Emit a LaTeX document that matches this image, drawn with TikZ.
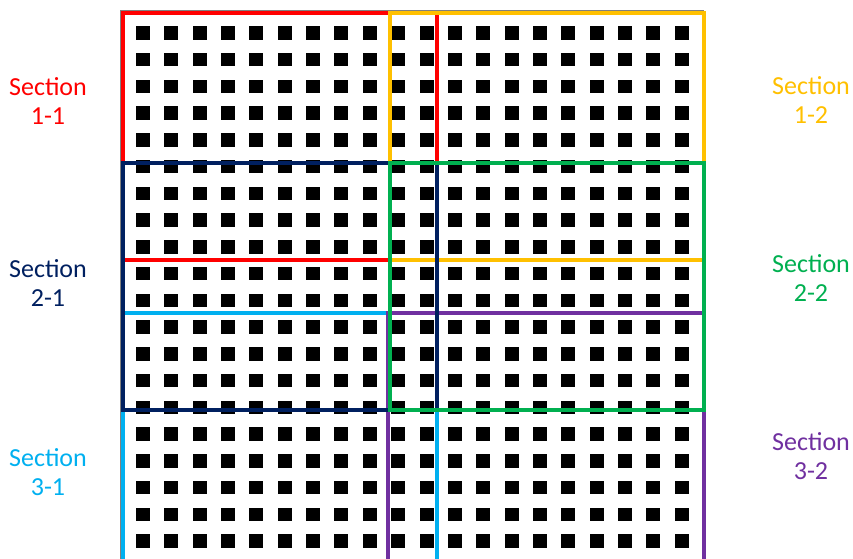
\documentclass[tikz,border=0pt]{standalone}
\usepackage{fontspec}
\setmainfont{Carlito}
\usetikzlibrary{positioning}
\definecolor{secred}{HTML}{FF0000}
\definecolor{secgold}{HTML}{FFC000}
\definecolor{secnavy}{HTML}{002060}
\definecolor{secgreen}{HTML}{00B050}
\definecolor{secsky}{HTML}{00B0F0}
\definecolor{secviolet}{HTML}{7030A0}

\begin{document}
\begin{tikzpicture}[x=1pt,y=-1pt,
  secbox/.style={line width=4pt},
  seclabel/.style={align=center,font=\fontsize{26}{29}\selectfont}]
  \useasboundingbox (0,0) rectangle (853,558);
  \fill[white] (0,0) rectangle (853,558);
  \clip (0,0) rectangle (853,558);
  % outer frame and pins
  \draw[gray,line width=1pt] (120,10) rectangle (703,600);
  \foreach \i in {0,...,19}
    \foreach \j in {0,...,20}
      \fill ({136+28.35*\i},{26+26.75*\j}) rectangle +(14,13.5);
  % sections
  \draw[secbox,secred] (123,13) rectangle (437,260);
  \draw[secbox,secgold] (390,13) rectangle (704,260);
  \draw[secbox,secsky] (123,313) rectangle (437,600);
  \draw[secbox,secviolet] (388,313) rectangle (704,600);
  \draw[secbox,secnavy] (123,163) rectangle (437,410);
  \draw[secbox,secgreen] (390,163) rectangle (704,410);
  % labels
  \node[seclabel,text=secred] (s11) at (48,101) {Section\\1-1};
  \node[seclabel,text=secgold] (s12) at (811,100) {Section\\1-2};
  \node[seclabel,text=secnavy] (s21) at (48,283) {Section\\2-1};
  \node[seclabel,text=secgreen] (s22) at (811,278) {Section\\2-2};
  \node[seclabel,text=secsky] (s31) at (48,472) {Section\\3-1};
  \node[seclabel,text=secviolet] (s32) at (811,456) {Section\\3-2};
\end{tikzpicture}
\end{document}
